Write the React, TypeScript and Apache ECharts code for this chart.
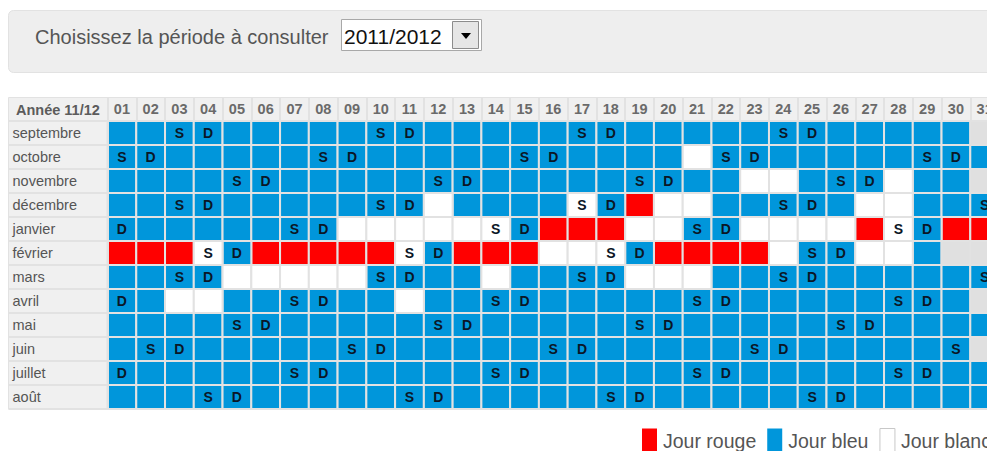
import React, { useEffect, useRef } from "react";
import * as echarts from "echarts";

const days = [
  "01", "02", "03", "04", "05", "06", "07", "08", "09", "10",
  "11", "12", "13", "14", "15", "16", "17", "18", "19", "20",
  "21", "22", "23", "24", "25", "26", "27", "28", "29", "30", "31",
];

const months = [
  "septembre", "octobre", "novembre", "décembre", "janvier", "février",
  "mars", "avril", "mai", "juin", "juillet", "août",
];

// B = Jour bleu, W = Jour blanc, R = Jour rouge, - = jour inexistant
const dayColors = [
  "BBBBBBBBBB" + "BBBBBBBBBB" + "BBBBBBBBBB" + "-",
  "BBBBBBBBBB" + "BBBBBBBBBB" + "WBBBBBBBBB" + "B",
  "BBBBBBBBBB" + "BBBBBBBBBB" + "BBWWBBBWBB" + "-",
  "BBBBBBBBBB" + "BWBBBBWBRW" + "WBBBBBWWBB" + "B",
  "BBBBBBBBWW" + "WWWWBRRRWW" + "BBWWWWRWBR" + "R",
  "RRRWBRRRRR" + "WBRRRWWWBR" + "RRRWBBWWB-" + "-",
  "BBBBWWWWWB" + "BBBWBBBBWW" + "WBBBBBBBBB" + "B",
  "BBWWBBBBBB" + "WBBBBBBBBB" + "BBBBBBBBBB" + "-",
  "BBBBBBBBBB" + "BBBBBBBBBB" + "BBBBBBBBBB" + "B",
  "BBBBBBBBBB" + "BBBBBBBBBB" + "BBBBBBBBBB" + "-",
  "BBBBBBBBBB" + "BBBBBBBBBB" + "BBBBBBBBBB" + "B",
  "BBBBBBBBBB" + "BBBBBBBBBB" + "BBBBBBBBBB" + "B",
];

// S = samedi, D = dimanche
const weekendMarks = [
  "..SD.....S" + "D.....SD.." + "...SD....." + ".",
  "SD.....SD." + "....SD...." + ".SD.....SD" + ".",
  "....SD...." + ".SD.....SD" + ".....SD..." + ".",
  "..SD.....S" + "D.....SD.." + "...SD....." + "S",
  "D.....SD.." + "...SD....." + "SD.....SD." + ".",
  "...SD....." + "SD.....SD." + "....SD...." + ".",
  "..SD.....S" + "D.....SD.." + "...SD....." + "S",
  "D.....SD.." + "...SD....." + "SD.....SD." + ".",
  "....SD...." + ".SD.....SD" + ".....SD..." + ".",
  ".SD.....SD" + ".....SD..." + "..SD.....S" + ".",
  "D.....SD.." + "...SD....." + "SD.....SD." + ".",
  "...SD....." + "SD.....SD." + "....SD...." + ".",
];

const legendNames = ["Jour rouge", "Jour bleu", "Jour blanc"];
const periodLabel = "Choisissez la période à consulter";
const periodValue = "2011/2012";
const cornerLabel = "Année 11/12";

const FONT = "'Liberation Sans', Arial, sans-serif";
const COLORS: Record<string, string> = {
  R: "#ff0000",
  B: "#0096db",
  W: "#ffffff",
  "-": "#e0e0e0",
};
const BORDER = "#e2e2e2";

export default function App() {
  const ref = useRef<HTMLDivElement>(null);

  useEffect(() => {
    if (!ref.current) return;
    const chart = echarts.init(ref.current, undefined, { renderer: "svg" });

    const buckets: Record<string, any[]> = { R: [], B: [], W: [], "-": [] };
    months.forEach((_, m) => {
      days.forEach((__, d) => {
        const code = dayColors[m][d];
        const mk = weekendMarks[m][d];
        const num = mk === "S" ? 1 : mk === "D" ? 2 : 0;
        buckets[code].push([d, m, num]);
      });
    });

    const markText = ["", "S", "D"];
    const mkSeries = (name: string, code: string) => ({
      name,
      type: "custom",
      silent: true,
      data: buckets[code],
      encode: { x: 0, y: 1 },
      itemStyle: { color: COLORS[code], borderWidth: 0 },
      renderItem: (_params: any, api: any) => {
        const c = api.coord([api.value(0), api.value(1)]);
        const s = api.size([1, 1]);
        const t = markText[api.value(2)] || "";
        return {
          type: "rect",
          shape: { x: c[0] - s[0] / 2, y: c[1] - s[1] / 2, width: s[0], height: s[1] },
          style: { fill: COLORS[code], stroke: BORDER, lineWidth: 2 },
          textContent: {
            style: {
              text: t,
              fontFamily: FONT,
              fontSize: 14,
              fontWeight: "bold",
              fill: "#0b1626",
            },
          },
          textConfig: { position: "inside" },
        };
      },
    });

    const option: any = {
      animation: false,
      backgroundColor: "#ffffff",
      grid: { left: 107.5, top: 121, width: 31 * 28.76, height: 12 * 24 },
      xAxis: {
        type: "category",
        position: "top",
        data: days,
        z: 10,
        axisLine: { show: true, lineStyle: { color: BORDER, width: 2 } },
        axisTick: { show: true, interval: 0, length: 24, lineStyle: { color: BORDER, width: 2 } },
        axisLabel: {
          interval: 0,
          margin: 12,
          verticalAlign: "middle",
          fontFamily: FONT,
          fontSize: 14.5,
          fontWeight: "bold",
          color: "#6a6a6a",
        },
        splitLine: { show: false },
      },
      yAxis: {
        type: "category",
        inverse: true,
        data: months,
        z: 10,
        axisLine: { show: true, lineStyle: { color: BORDER, width: 2 } },
        axisTick: { show: true, interval: 0, length: 99, lineStyle: { color: BORDER, width: 2 } },
        axisLabel: {
          interval: 0,
          margin: 95,
          align: "left",
          fontFamily: FONT,
          fontSize: 14.5,
          color: "#555555",
        },
        splitLine: { show: false },
      },
      legend: {
        data: [
          { name: legendNames[0] },
          { name: legendNames[1] },
          { name: legendNames[2], itemStyle: { borderColor: "#c8c8c8", borderWidth: 1 } },
        ],
        left: 642,
        top: 428,
        padding: 0,
        icon: "rect",
        itemWidth: 15,
        itemHeight: 24,
        itemGap: 11,
        selectedMode: false,
        textStyle: { fontFamily: FONT, fontSize: 19.5, color: "#555555", padding: [0, 0, 0, 1] },
      },
      graphic: [
        {
          type: "rect",
          z: 1,
          shape: { x: 8.5, y: 10.5, width: 1100, height: 62, r: 5 },
          style: { fill: "#eeeeee", stroke: "#e2e2e2", lineWidth: 1 },
        },
        {
          type: "text",
          z: 2,
          x: 35,
          y: 37,
          style: {
            text: periodLabel,
            fontFamily: FONT,
            fontSize: 20,
            fill: "#555555",
            verticalAlign: "middle",
          },
        },
        {
          type: "rect",
          z: 2,
          shape: { x: 341.5, y: 19.5, width: 140, height: 31 },
          style: { fill: "#ffffff", stroke: "#a8a8a8", lineWidth: 1 },
        },
        {
          type: "text",
          z: 3,
          x: 344,
          y: 36,
          style: {
            text: periodValue,
            fontFamily: FONT,
            fontSize: 21,
            fill: "#111111",
            verticalAlign: "middle",
          },
        },
        {
          type: "rect",
          z: 3,
          shape: { x: 452.5, y: 21.5, width: 26, height: 27 },
          style: { fill: "#e6e6e6", stroke: "#8c8c8c", lineWidth: 1 },
        },
        {
          type: "polygon",
          z: 4,
          shape: { points: [[461, 33], [471, 33], [466, 39]] },
          style: { fill: "#000000" },
        },
        {
          type: "rect",
          z: 1,
          shape: { x: 8.5, y: 97.5, width: 1100, height: 23.5 },
          style: { fill: "#f0f0f0", stroke: BORDER, lineWidth: 1 },
        },
        {
          type: "rect",
          z: 1,
          shape: { x: 8.5, y: 121, width: 99, height: 288 },
          style: { fill: "#f0f0f0", stroke: BORDER, lineWidth: 1 },
        },
        {
          type: "text",
          z: 3,
          x: 16,
          y: 109.5,
          style: {
            text: cornerLabel,
            fontFamily: FONT,
            fontSize: 14.5,
            fontWeight: "bold",
            fill: "#5c5c5c",
            verticalAlign: "middle",
          },
        },
      ],
      series: [
        mkSeries(legendNames[0], "R"),
        mkSeries(legendNames[1], "B"),
        mkSeries(legendNames[2], "W"),
        mkSeries("Jour inexistant", "-"),
      ],
    };

    chart.setOption(option);
    return () => chart.dispose();
  }, []);

  return (
    <div
      style={{
        position: "fixed",
        left: 0,
        top: 0,
        width: 987,
        height: 451,
        overflow: "hidden",
        background: "#ffffff",
      }}
    >
      <div ref={ref} style={{ width: 1010, height: 451 }} />
    </div>
  );
}
